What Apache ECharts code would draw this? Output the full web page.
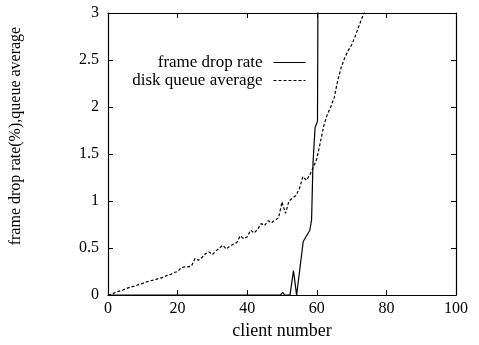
<!DOCTYPE html>
<html>
<head>
<meta charset="utf-8">
<script src="https://cdn.jsdelivr.net/npm/echarts@6/dist/echarts.min.js"></script>
<style>
  html, body { margin: 0; padding: 0; background: #fff; }
  #chart { width: 479px; height: 345px; }
</style>
</head>
<body>
<div id="chart"></div>
<script>
// disk queue average, one value per client count 0..74
const queueX = [];
for (let i = 0; i <= 74; i++) queueX.push(i);
const queueY = [
  0, 0.01, 0.025, 0.04, 0.05, 0.065, 0.08, 0.09, 0.1, 0.115,
  0.125, 0.14, 0.15, 0.16, 0.17, 0.18, 0.19, 0.21, 0.22, 0.24,
  0.25, 0.29, 0.3, 0.3, 0.31, 0.39, 0.37, 0.4, 0.44, 0.46,
  0.43, 0.47, 0.5, 0.53, 0.49, 0.52, 0.54, 0.56, 0.63, 0.6,
  0.62, 0.69, 0.66, 0.7, 0.76, 0.74, 0.79, 0.77, 0.8, 0.82,
  0.99, 0.87, 1.0, 1.03, 1.06, 1.13, 1.26, 1.22, 1.28, 1.36,
  1.45, 1.62, 1.8, 1.92, 2.0, 2.1, 2.28, 2.42, 2.52, 2.6,
  2.66, 2.75, 2.85, 2.95, 3.03
];

// frame drop rate (%)
const dropX = [0, 49.5, 50.2, 50.8, 52.3, 53.3, 54.2, 56.1, 56.6, 58, 58.5, 58.9, 59.5, 60.2, 60.4];
const dropY = [0, 0, 0.03, 0, 0, 0.26, 0, 0.57, 0.59, 0.69, 0.8, 1.4, 1.78, 1.85, 4];

const xTicks = [0, 20, 40, 60, 80, 100];
const yTicks = [0, 0.5, 1, 1.5, 2, 2.5, 3];

const zip = (xs, ys) => xs.map((x, i) => [x, ys[i]]);

const chart = echarts.init(document.getElementById('chart'));
const font = 'Liberation Serif';

const tickStyle = { show: true, inside: true, length: 5, lineStyle: { color: '#000', width: 1 } };
const lineAxis = { show: true, onZero: false, lineStyle: { color: '#000', width: 1.2 } };

chart.setOption({
  animation: false,
  textStyle: { fontFamily: font, color: '#000' },
  grid: { left: 108, right: 23, top: 13, bottom: 48 },
  legend: {
    orient: 'vertical',
    right: 168,
    top: 49,
    align: 'right',
    itemWidth: 32,
    itemHeight: 10,
    itemGap: 1,
    itemStyle: { color: 'transparent', borderWidth: 0, opacity: 0 },
    lineStyle: { width: 1 },
    textStyle: { fontFamily: font, fontSize: 17, color: '#000', padding: [0, 6, 0, 0] },
    data: ['frame drop rate', 'disk queue average']
  },
  xAxis: [
    {
      type: 'value', min: 0, max: 100, interval: 20,
      name: 'client number', nameLocation: 'middle', nameGap: 25,
      nameTextStyle: { fontFamily: font, fontSize: 18, color: '#000' },
      axisLine: lineAxis, axisTick: tickStyle,
      axisLabel: { fontFamily: font, fontSize: 16, color: '#000', margin: 6,
        formatter: v => xTicks.includes(v) ? String(v) : '' },
      splitLine: { show: false }
    },
    {
      type: 'value', min: 0, max: 100, interval: 20, position: 'top',
      axisLine: lineAxis, axisTick: tickStyle, axisLabel: { show: false },
      splitLine: { show: false }
    }
  ],
  yAxis: [
    {
      type: 'value', min: 0, max: 3, interval: 0.5,
      name: 'frame drop rate(%),queue average', nameLocation: 'middle', nameGap: 84,
      nameTextStyle: { fontFamily: font, fontSize: 16, color: '#000', padding: [0, 0, 0, 36] },
      axisLine: lineAxis, axisTick: tickStyle,
      axisLabel: { fontFamily: font, fontSize: 16, color: '#000', margin: 9,
        formatter: v => yTicks.includes(v) ? String(v) : '' },
      splitLine: { show: false }
    },
    {
      type: 'value', min: 0, max: 3, interval: 0.5, position: 'right',
      axisLine: lineAxis, axisTick: tickStyle, axisLabel: { show: false },
      splitLine: { show: false }
    }
  ],
  series: [
    {
      name: 'frame drop rate', type: 'line', symbol: 'none', clip: true,
      data: zip(dropX, dropY),
      itemStyle: { color: '#000' },
      lineStyle: { color: '#000', width: 1.2, type: 'solid' }
    },
    {
      name: 'disk queue average', type: 'line', symbol: 'none', clip: true,
      data: zip(queueX, queueY),
      itemStyle: { color: '#000' },
      lineStyle: { color: '#000', width: 1.2, type: [3, 2] }
    }
  ]
});
</script>
</body>
</html>
